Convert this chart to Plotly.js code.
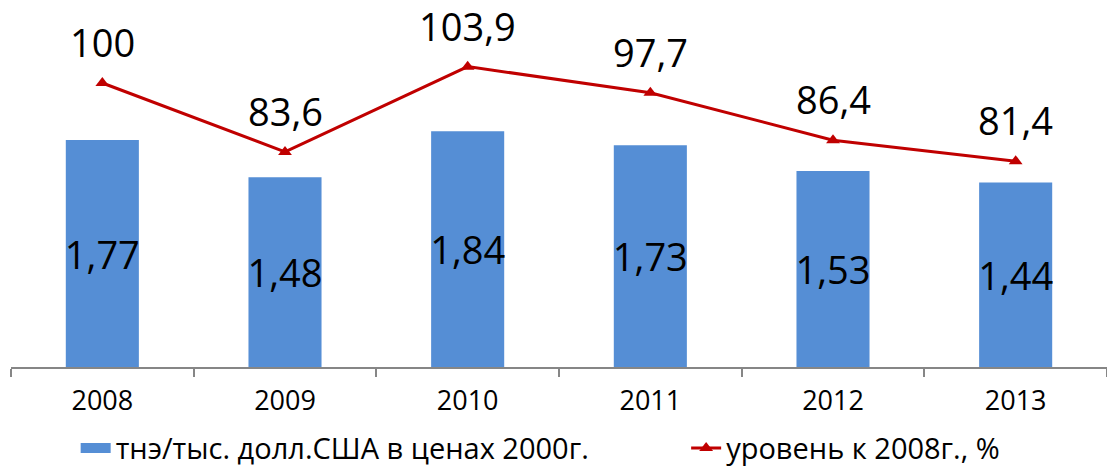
<!DOCTYPE html>
<html>
<head>
<meta charset="utf-8">
<script src="https://cdn.plot.ly/plotly-3.0.1.min.js"></script>
<style>html,body{margin:0;padding:0;background:#fff;}#chart{width:1107px;height:469px;}</style>
</head>
<body>
<div id="chart"></div>
<script>
const years = ['2008', '2009', '2010', '2011', '2012', '2013'];
const intensity = [1.77, 1.48, 1.84, 1.73, 1.53, 1.44];
const level = [100, 83.6, 103.9, 97.7, 86.4, 81.4];
const barName = 'тнэ/тыс. долл.США в ценах 2000г.';
const lineName = 'уровень к 2008г., %';

const fmt = v => String(v).replace('.', ',');
const FONT = '"Open Sans", "Noto Sans", sans-serif';
const BAR_COLOR = '#558ED5';

const traces = [
  {
    type: 'bar', x: years, y: intensity, name: barName, showlegend: false, legendgroup: 'bars',
    marker: {color: BAR_COLOR},
    text: intensity.map(fmt), textposition: 'inside', insidetextanchor: 'middle',
    constraintext: 'none', cliponaxis: false,
    insidetextfont: {family: FONT, size: 38, color: '#000'},
    textangle: 0, hoverinfo: 'skip'
  },
  // legend-only entry giving the wide block swatch of the bar series
  {
    type: 'scatter', mode: 'lines', x: [null], y: [null], name: barName, legendgroup: 'bars',
    line: {color: BAR_COLOR, width: 16}, legend: 'legend', hoverinfo: 'skip'
  },
  {
    type: 'scatter', mode: 'lines+markers', x: years, y: level, name: lineName, yaxis: 'y2',
    line: {color: '#C00000', width: 3},
    marker: {symbol: 'triangle-up', size: 12, color: '#C00000'},
    legend: 'legend2', hoverinfo: 'skip'
  }
];

// category axis annotations use the category index
const annotations = years.map((yr, i) => ({
  x: i, y: level[i], xref: 'x', yref: 'y2', text: fmt(level[i]),
  showarrow: false, yanchor: 'middle', yshift: 41,
  font: {family: FONT, size: 38, color: '#000'}
}));

const legendFont = {family: FONT, size: 29, color: '#000'};
const layout = {
  width: 1107, height: 469,
  margin: {l: 11, r: 0, t: 20, b: 102, autoexpand: false},
  paper_bgcolor: '#fff', plot_bgcolor: '#fff',
  font: {family: FONT, color: '#000'},
  bargap: 0.6,
  showlegend: true,
  legend: {orientation: 'h', x: 0.059, xanchor: 'left', y: -0.234, yanchor: 'middle',
           font: legendFont, bgcolor: 'rgba(0,0,0,0)', tracegroupgap: 0},
  legend2: {orientation: 'h', x: 0.616, xanchor: 'left', y: -0.234, yanchor: 'middle',
           font: legendFont, bgcolor: 'rgba(0,0,0,0)', tracegroupgap: 0},
  xaxis: {
    type: 'category', range: [-0.5, 5.5],
    showline: true, linecolor: '#868686', linewidth: 2,
    ticks: 'outside', tickson: 'boundaries', ticklen: 8, tickcolor: '#868686', tickwidth: 2,
    tickfont: {family: FONT, size: 27, color: '#000'}, ticklabelstandoff: 9,
    showgrid: false, zeroline: false, fixedrange: true
  },
  yaxis: {range: [0, 2.707], visible: false, showgrid: false, zeroline: false},
  yaxis2: {range: [32.4, 115], overlaying: 'y', side: 'right', visible: false, showgrid: false, zeroline: false},
  annotations: annotations
};

Plotly.newPlot('chart', traces, layout, {staticPlot: true, displayModeBar: false});
</script>
</body>
</html>
